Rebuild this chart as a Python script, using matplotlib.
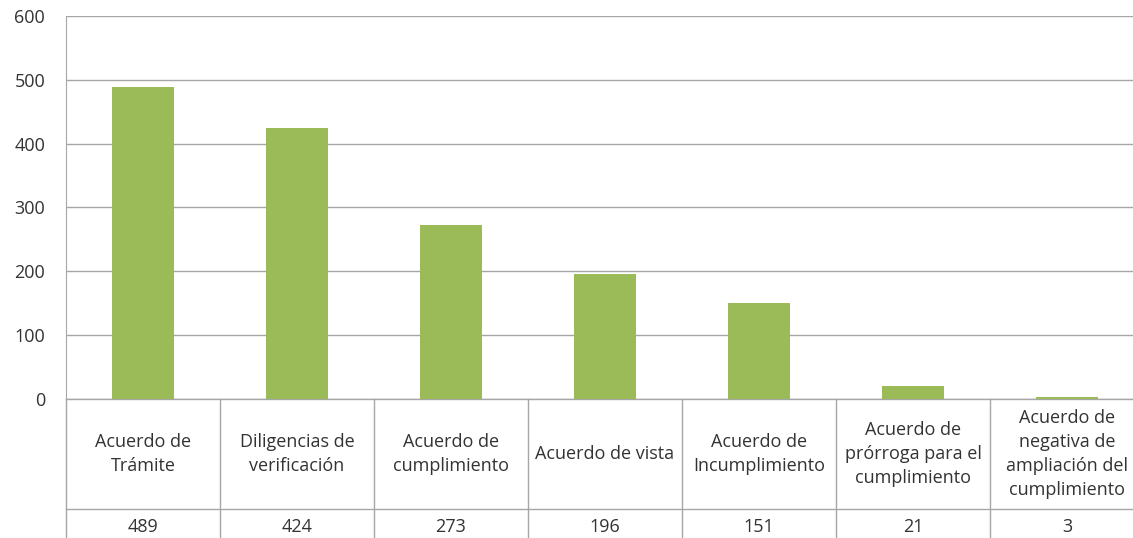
import matplotlib.pyplot as plt

categories = [
    "Acuerdo de\nTrámite",
    "Diligencias de\nverificación",
    "Acuerdo de\ncumplimiento",
    "Acuerdo de vista",
    "Acuerdo de\nIncumplimiento",
    "Acuerdo de\nprórroga para el\ncumplimiento",
    "Acuerdo de\nnegativa de\nampliación del\ncumplimiento",
]
values = [489, 424, 273, 196, 151, 21, 3]
yticks = [0, 100, 200, 300, 400, 500, 600]

BAR_COLOR = "#9BBB59"
GRID_COLOR = "#A6A6A6"
TEXT_COLOR = "#333333"
FONT = ["Open Sans", "DejaVu Sans"]

W, H = 1133, 538
fig = plt.figure(figsize=(W / 100, H / 100), dpi=100)
fig.patch.set_facecolor("white")

left_px, top_px, zero_px, col_px = 66, 16, 399, 154
n = len(categories)
ax = fig.add_axes([left_px / W, (H - zero_px) / H,
                   n * col_px / W, (zero_px - top_px) / H])

x = list(range(n))
ax.bar(x, values, width=0.4, color=BAR_COLOR, zorder=3)
ax.set_xlim(-0.5, n - 0.5)
ax.set_ylim(0, 600)
ax.set_yticks(yticks)
ax.set_yticklabels([str(v) for v in yticks], fontsize=13, color=TEXT_COLOR,
                   family=FONT)
ax.tick_params(axis="y", length=0, pad=15)
ax.set_xticks([])
ax.grid(axis="y", color=GRID_COLOR, linewidth=1, zorder=0)
for s in ["top", "right", "bottom"]:
    ax.spines[s].set_visible(False)
ax.spines["left"].set_color(GRID_COLOR)

# data table below the axis (axes-x / pixel-y coordinates)
trans = ax.get_xaxis_transform()
def yfrac(py):
    return (zero_px - py) / (zero_px - top_px)

head_bot = 509
for k in range(n + 1):
    ax.plot([k - 0.5, k - 0.5], [yfrac(zero_px), yfrac(560)], transform=trans,
            color=GRID_COLOR, linewidth=1, clip_on=False)
ax.plot([-0.5, n - 0.5], [yfrac(zero_px), yfrac(zero_px)], transform=trans,
        color=GRID_COLOR, linewidth=1, clip_on=False)
ax.plot([-0.5, n - 0.5], [yfrac(head_bot), yfrac(head_bot)], transform=trans,
        color=GRID_COLOR, linewidth=1, clip_on=False)

for i, (c, v) in enumerate(zip(categories, values)):
    ax.text(i, yfrac((zero_px + head_bot) / 2), c, transform=trans,
            ha="center", va="center", fontsize=13, color=TEXT_COLOR,
            linespacing=1.42, family=FONT)
    ax.text(i, yfrac(527), str(v), transform=trans, ha="center", va="center",
            fontsize=13, color=TEXT_COLOR, family=FONT)

fig.savefig("out.png", dpi=100, facecolor="white")
